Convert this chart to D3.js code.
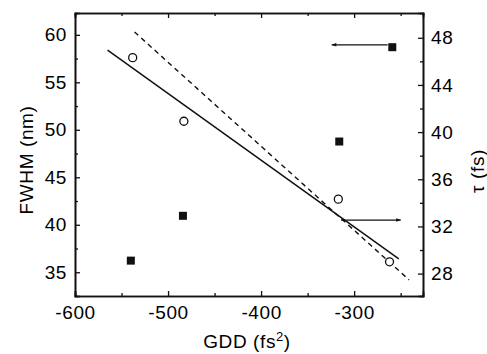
<!DOCTYPE html>
<html>
<head>
<meta charset="utf-8">
<script src="https://cdn.jsdelivr.net/npm/d3@7"></script>
<style>
  body { margin:0; background:#fff; }
  text { font-family: "Liberation Sans", Arial, sans-serif; fill:#000; }
</style>
</head>
<body>
<script>
// open circles: FWHM (left axis)
var gddCircles = [-538, -483, -317, -262];
var fwhmValues = [57.6, 50.9, 42.7, 36.1];
// filled squares: tau (right axis)
var gddSquares = [-540, -484, -316, -259];
var tauValues = [29.1, 32.9, 39.2, 47.2];
// lines (in FWHM units)
var solidLine = [[-565, 58.4], [-252, 36.4]];
var dashedLine = [[-536, 60.3], [-241, 34.2]];
// arrows
var arrowTau = {from:[-264, 47.4], to:[-324, 47.4]};
var arrowFwhm = {from:[-314, 40.5], to:[-250, 40.5]};

var xTicks = [-600, -500, -400, -300];
var xMinor = [-550, -450, -350, -250];
var leftTicks = [35, 40, 45, 50, 55, 60];
var leftMinor = [37.5, 42.5, 47.5, 52.5, 57.5];
var rightTicks = [28, 32, 36, 40, 44, 48];
var rightMinor = [30, 34, 38, 42, 46];

var margins = {top:13, bottom:58, left:75, right:64};
var W = 487, H = 354;
var width = W - margins.left - margins.right;
var height = H - margins.top - margins.bottom;

var svg = d3.select("body").append("svg").attr("width", W).attr("height", H);
var defs = svg.append("defs");
defs.append("marker").attr("id","arr").attr("viewBox","0 0 10 10")
  .attr("refX",9).attr("refY",5).attr("markerWidth",7).attr("markerHeight",5)
  .attr("markerUnits","userSpaceOnUse").attr("orient","auto")
  .append("path").attr("d","M0,1.5 L10,5 L0,8.5 Z").attr("fill","#111");

var g = svg.append("g").attr("transform","translate("+margins.left+","+margins.top+")");

var x = d3.scaleLinear().domain([-600, -226]).range([0, width]);
var yL = d3.scaleLinear().domain([32.5, 62.3]).range([height, 0]);
var yR = d3.scaleLinear().domain([26.1, 50.1]).range([height, 0]);

function styleAxis(sel){
  sel.selectAll("path").attr("stroke","#111").attr("stroke-width",1.6);
  sel.selectAll("line").attr("stroke","#111").attr("stroke-width",1.3);
  sel.selectAll("text").attr("font-size","19px").attr("letter-spacing","0.6px");
}

// minor ticks
g.append("g").attr("transform","translate(0,"+height+")")
  .call(d3.axisBottom(x).tickValues(xMinor).tickSize(-3).tickFormat(""))
  .call(styleAxis);
g.append("g").call(d3.axisTop(x).tickValues(xMinor).tickSize(-3).tickFormat("")).call(styleAxis);
g.append("g").call(d3.axisLeft(yL).tickValues(leftMinor).tickSize(-3).tickFormat("")).call(styleAxis);
g.append("g").attr("transform","translate("+width+",0)")
  .call(d3.axisRight(yR).tickValues(rightMinor).tickSize(-3).tickFormat("")).call(styleAxis);

// major
g.append("g").attr("transform","translate(0,"+height+")")
  .call(d3.axisBottom(x).tickValues(xTicks).tickSize(-5).tickPadding(10)).call(styleAxis);
g.append("g").call(d3.axisTop(x).tickValues(xTicks).tickSize(-5).tickFormat("")).call(styleAxis);
g.append("g").call(d3.axisLeft(yL).tickValues(leftTicks).tickSize(-5).tickPadding(8)).call(styleAxis);
g.append("g").attr("transform","translate("+width+",0)")
  .call(d3.axisRight(yR).tickValues(rightTicks).tickSize(-5).tickPadding(8)).call(styleAxis);

svg.selectAll(".tick text").each(function(){
  var t = d3.select(this); t.text(t.text().replace("−","-"));
});

// lines
var line = d3.line().x(function(d){return x(d[0]);}).y(function(d){return yL(d[1]);});
g.append("path").datum(solidLine).attr("d",line).attr("stroke","#111").attr("stroke-width",1.5).attr("fill","none");
g.append("path").datum(dashedLine).attr("d",line).attr("stroke","#111").attr("stroke-width",1.4)
  .attr("stroke-dasharray","5,4").attr("fill","none");

// circles
g.selectAll("circle.fw").data(gddCircles).enter().append("circle")
  .attr("cx",function(d){return x(d);})
  .attr("cy",function(d,i){return yL(fwhmValues[i]);})
  .attr("r",4).attr("fill","#fff").attr("stroke","#111").attr("stroke-width",1.3);

// squares
g.selectAll("rect.tau").data(gddSquares).enter().append("rect")
  .attr("x",function(d){return x(d)-4;})
  .attr("y",function(d,i){return yR(tauValues[i])-4;})
  .attr("width",8).attr("height",8).attr("fill","#111");

// arrows
g.append("line").attr("x1",x(arrowTau.from[0])).attr("y1",yR(arrowTau.from[1]))
  .attr("x2",x(arrowTau.to[0])).attr("y2",yR(arrowTau.to[1]))
  .attr("stroke","#111").attr("stroke-width",1.3).attr("marker-end","url(#arr)");
g.append("line").attr("x1",x(arrowFwhm.from[0])).attr("y1",yL(arrowFwhm.from[1]))
  .attr("x2",x(arrowFwhm.to[0])).attr("y2",yL(arrowFwhm.to[1]))
  .attr("stroke","#111").attr("stroke-width",1.3).attr("marker-end","url(#arr)");

// axis titles
var xl = svg.append("text").attr("x",margins.left + width/2 - 2).attr("y",348)
  .attr("text-anchor","middle").attr("font-size","19px").attr("letter-spacing","0.6px");
xl.append("tspan").text("GDD (fs");
xl.append("tspan").attr("dy",-7).attr("font-size","13px").text("2");
xl.append("tspan").attr("dy",7).text(")");

svg.append("text").attr("transform","translate(33,160) rotate(-90)")
  .attr("text-anchor","middle").attr("font-size","19px").attr("letter-spacing","0.6px").text("FWHM (nm)");
svg.append("text").attr("transform","translate(484,171) rotate(-90)")
  .attr("text-anchor","middle").attr("font-size","19px").attr("letter-spacing","0.6px").text("τ (fs)");
</script>
</body>
</html>
